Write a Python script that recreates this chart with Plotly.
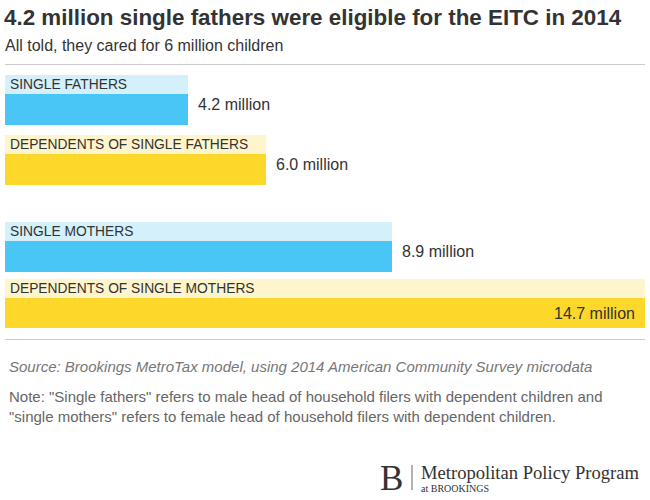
import plotly.graph_objects as go

# ---- data ----
categories = ["SINGLE FATHERS", "DEPENDENTS OF SINGLE FATHERS",
              "SINGLE MOTHERS", "DEPENDENTS OF SINGLE MOTHERS"]
values = [4.2, 6.0, 8.9, 14.7]
value_labels = ["4.2 million", "6.0 million", "8.9 million", "14.7 million"]

# ---- layout constants (pixels) ----
W, H = 650, 500
ML, MR, MT, MB = 5, 5, 75, 172
PH = H - MT - MB
PW = W - ML - MR
BAND_H, BAR_H = 19, 31
ROW_TOPS = [0, 60, 146.7, 203.5]   # row offsets from the top of the plot area

dark_cols = ["#49C6F5", "#FDD82A", "#49C6F5", "#FDD82A"]
light_cols = ["#D3F0FB", "#FFF5CC", "#D3F0FB", "#FFF5CC"]
TXT = "#333333"
FONT = "Liberation Sans, Arial, sans-serif"

band_c = [t + BAND_H / 2 for t in ROW_TOPS]
bar_c = [t + BAND_H + BAR_H / 2 for t in ROW_TOPS]

def py(px):
    return (H - MB - px) / PH

def pxx(px):
    return (px - ML) / PW

fig = go.Figure()
fig.add_trace(go.Bar(orientation="h", x=values, y=band_c, width=BAND_H,
                     marker=dict(color=light_cols, line=dict(width=0)),
                     hoverinfo="skip", showlegend=False))
fig.add_trace(go.Bar(orientation="h", x=values, y=bar_c, width=BAR_H,
                     marker=dict(color=dark_cols, line=dict(width=0)),
                     hovertext=value_labels, hoverinfo="text",
                     showlegend=False))

annotations = []
for cat, yc in zip(categories, band_c):
    annotations.append(dict(x=0, y=yc, xref="x", yref="y", text=cat,
                            showarrow=False, xanchor="left", yanchor="middle",
                            xshift=3, yshift=0,
                            font=dict(family=FONT, size=13.8, color=TXT)))

vmax = max(values)
for v, lab, yc in zip(values, value_labels, bar_c):
    inside = v >= vmax
    annotations.append(dict(x=v, y=yc, xref="x", yref="y", text=lab,
                            showarrow=False,
                            xanchor="right" if inside else "left",
                            yanchor="middle",
                            xshift=-8 if inside else 8,
                            yshift=0 if inside else 5,
                            font=dict(family=FONT, size=16, color=TXT)))

def ptext(x, y, text, size, color, anchor="left", family=FONT, yanchor="middle"):
    annotations.append(dict(x=pxx(x), y=py(y), xref="paper", yref="paper",
                            text=text, showarrow=False, xanchor=anchor,
                            yanchor=yanchor, align="left",
                            font=dict(family=family, size=size, color=color)))

ptext(2, 17, "<b>4.2 million single fathers were eligible for the EITC in 2014</b>", 22.4, TXT)
ptext(3, 45, "All told, they cared for 6 million children", 16, TXT)
ptext(7, 366, "<i>Source: Brookings MetroTax model, using 2014 American Community Survey microdata</i>", 15, "#777777")
ptext(7, 406, "Note: \"Single fathers\" refers to male head of household filers with dependent children and<br>\"single mothers\" refers to female head of household filers with dependent children.", 15, "#666666")
SERIF = "Liberation Serif, Times New Roman, serif"
ptext(378, 478, "B", 35, "#333333", family=SERIF)
ptext(419, 472, "Metropolitan Policy Program", 18.6, "#333333", family=SERIF)
ptext(419, 489, "at BROOKINGS", 10, "#333333", family=SERIF)

shapes = [
    dict(type="line", xref="paper", yref="paper", x0=0, x1=1, y0=py(64.5), y1=py(64.5),
         line=dict(color="#CCCCCC", width=1)),
    dict(type="line", xref="paper", yref="paper", x0=0, x1=1, y0=py(339.5), y1=py(339.5),
         line=dict(color="#CCCCCC", width=1)),
    dict(type="line", xref="paper", yref="paper", x0=pxx(412), x1=pxx(412), y0=py(465), y1=py(490),
         line=dict(color="#666666", width=1)),
]

fig.update_layout(
    width=W, height=H,
    margin=dict(l=ML, r=MR, t=MT, b=MB),
    paper_bgcolor="white", plot_bgcolor="white",
    barmode="overlay", bargap=0,
    xaxis=dict(range=[0, vmax], visible=False, fixedrange=True),
    yaxis=dict(range=[PH, 0], visible=False, fixedrange=True),
    annotations=annotations, shapes=shapes,
    font=dict(family=FONT, color=TXT),
)

fig.write_html("out.html", post_script="document.body.style.margin='0';",
               config={"displayModeBar": False})
